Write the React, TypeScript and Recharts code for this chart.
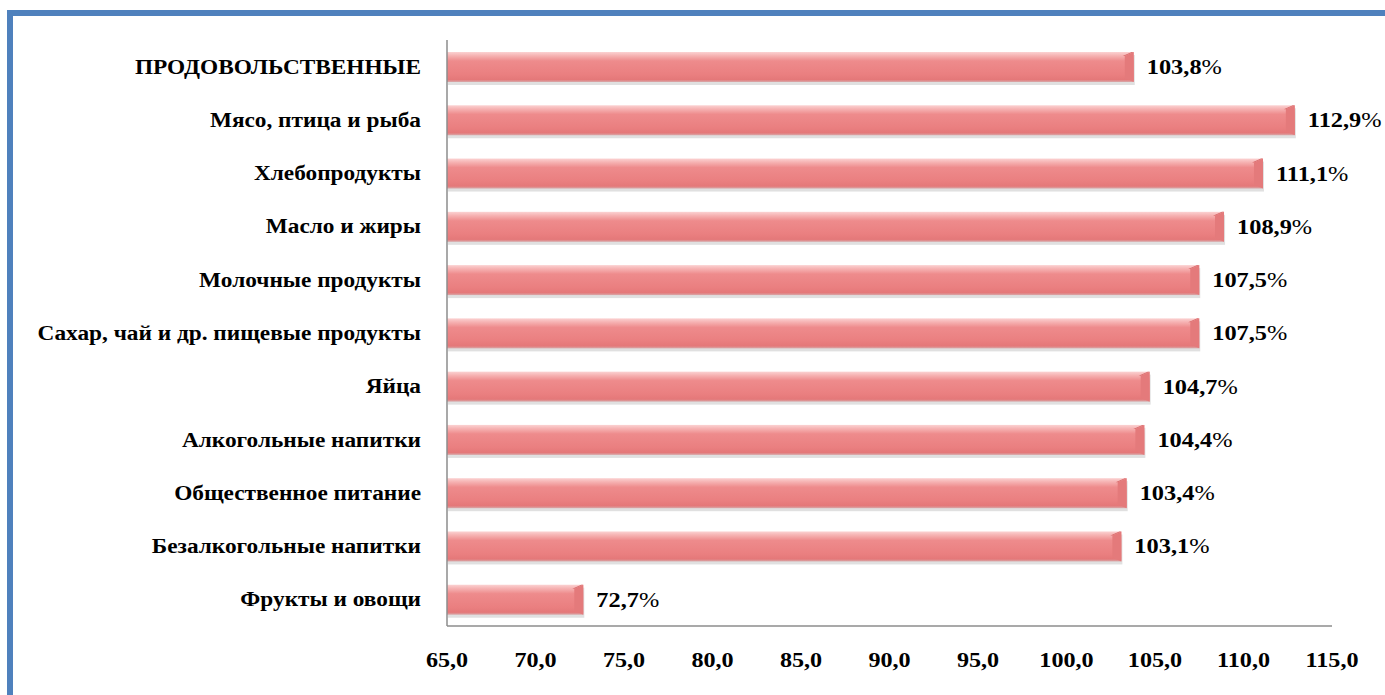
import { BarChart, Bar, XAxis, YAxis, LabelList } from 'recharts'

const categories = [
  'ПРОДОВОЛЬСТВЕННЫЕ',
  'Мясо, птица и рыба',
  'Хлебопродукты',
  'Масло и жиры',
  'Молочные продукты',
  'Сахар, чай и др. пищевые продукты',
  'Яйца',
  'Алкогольные напитки',
  'Общественное питание',
  'Безалкогольные напитки',
  'Фрукты и овощи',
]
const values = [103.8, 112.9, 111.1, 108.9, 107.5, 107.5, 104.7, 104.4, 103.4, 103.1, 72.7]
const xTicks = [65, 70, 75, 80, 85, 90, 95, 100, 105, 110, 115]

const data = categories.map((name, i) => ({ name, value: values[i] }))

const FONT = '"Liberation Serif", "Times New Roman", serif'
const fmt = (v: number) => v.toFixed(1).replace('.', ',')

function CategoryTick({ x, y, payload }: any) {
  return (
    <g transform={`translate(${x - 18},${y + 7}) scale(1.11,1)`}>
      <text textAnchor="end" fontFamily={FONT} fontWeight="bold" fontSize={21} fill="#000">
        {payload.value}
      </text>
    </g>
  )
}

function ValueTick({ x, y, payload }: any) {
  return (
    <g transform={`translate(${x},${y + 33}) scale(1.15,1)`}>
      <text textAnchor="middle" fontFamily={FONT} fontWeight="bold" fontSize={21} fill="#000">
        {fmt(payload.value)}
      </text>
    </g>
  )
}

function ValueLabel({ x, y, width, height, value }: any) {
  const lx = x + width + 13
  const ly = y + height / 2 + 7
  return (
    <g transform={`translate(${lx},${ly}) scale(1.16,1)`}>
      <text fontFamily={FONT} fontSize={21} fill="#000">
        <tspan fontWeight="bold">{fmt(value)}</tspan>
        <tspan>%</tspan>
      </text>
    </g>
  )
}

// bevelled bar like the Office 3D style
function BevelBar({ x, y, width, height }: any) {
  if (width <= 0) return null
  const b = 9
  return (
    <g>
      <rect x={x + 1} y={y + 3} width={width} height={height} fill="#bbb" opacity={0.45} />
      <rect x={x} y={y} width={width} height={height} fill="url(#barGrad)" />
      <polygon
        points={`${x + width - b},${y + 4} ${x + width},${y} ${x + width},${y + height} ${x + width - b},${y + height - 4}`}
        fill="#e47a7b"
      />
      <polygon
        points={`${x + width - b},${y + 4} ${x + width},${y} ${x + width - 2},${y} ${x + width - b - 2},${y + 4}`}
        fill="#d86869"
      />
    </g>
  )
}

export default function App() {
  return (
    <div
      style={{
        position: 'absolute',
        left: 0,
        top: 0,
        width: 1385,
        height: 695,
        background: '#fff',
        overflow: 'hidden',
      }}
    >
      <div
        style={{
          position: 'absolute',
          left: 7,
          top: 10,
          width: 1400,
          height: 720,
          borderLeft: '6px solid #4f81bd',
          borderTop: '6px solid #4f81bd',
          boxSizing: 'border-box',
        }}
      />
      <div style={{ position: 'absolute', left: 0, top: 0 }}>
        <BarChart
          width={1385}
          height={695}
          data={data}
          layout="vertical"
          barSize={30}
          margin={{ top: 40, right: 53, bottom: 29, left: 0 }}
        >
          <defs>
            <linearGradient id="barGrad" x1="0" y1="0" x2="0" y2="1">
              <stop offset="0" stopColor="#fbd2d2" />
              <stop offset="0.12" stopColor="#f6b3b3" />
              <stop offset="0.3" stopColor="#ee8b8c" />
              <stop offset="0.75" stopColor="#ea7f80" />
              <stop offset="0.92" stopColor="#e47879" />
              <stop offset="1" stopColor="#d8a9aa" />
            </linearGradient>
          </defs>
          <XAxis
            type="number"
            domain={[65, 115]}
            ticks={xTicks}
            interval={0}
            height={40}
            tickLine={false}
            axisLine={{ stroke: '#8c8c8c', strokeWidth: 1.5 }}
            tick={<ValueTick />}
          />
          <YAxis
            type="category"
            dataKey="name"
            width={447}
            tickLine={false}
            axisLine={{ stroke: '#8c8c8c', strokeWidth: 1.5 }}
            tick={<CategoryTick />}
            interval={0}
          />
          <Bar dataKey="value" shape={<BevelBar />} isAnimationActive={false}>
            <LabelList dataKey="value" content={<ValueLabel />} />
          </Bar>
        </BarChart>
      </div>
    </div>
  )
}
